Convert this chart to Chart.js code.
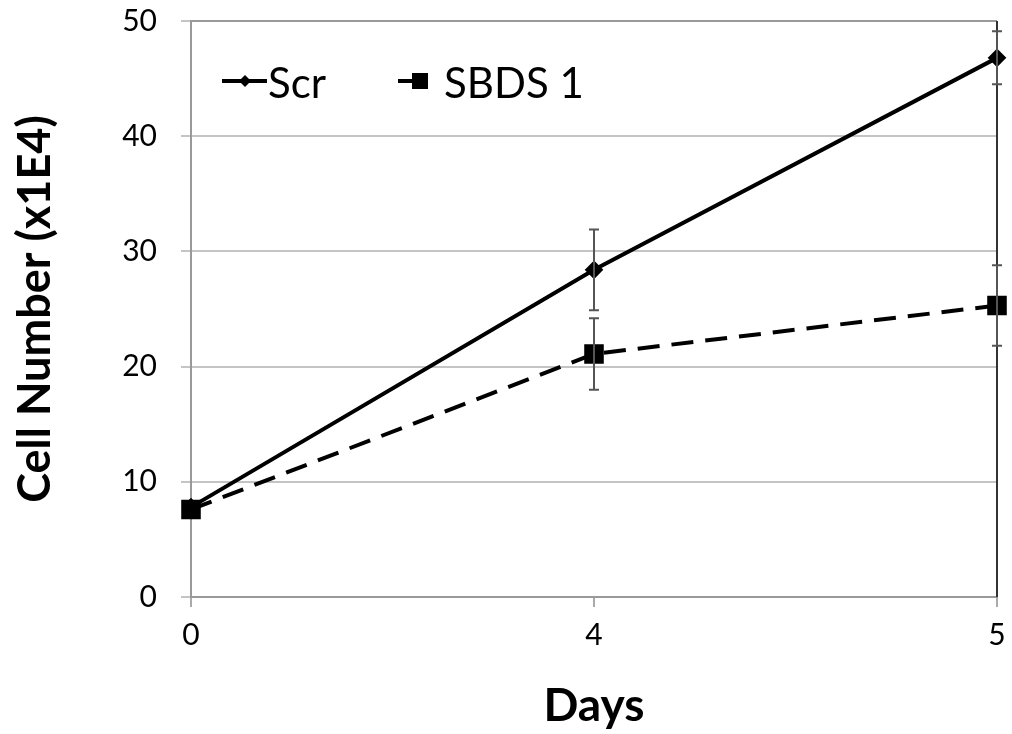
<!DOCTYPE html>
<html>
<head>
<meta charset="utf-8">
<script src="https://cdn.jsdelivr.net/npm/chart.js@4"></script>
<style>
  html, body { margin: 0; padding: 0; background: #fff; }
  #wrap { width: 1012px; height: 734px; position: relative; }
</style>
</head>
<body>
<div id="wrap"><canvas id="growthChart"></canvas></div>
<script>
// values
const days = ['0', '4', '5'];
const seriesNames = ['Scr', 'SBDS 1'];
const scrMean = [7.8, 28.4, 46.8];
const scrErr = [0, 3.5, 2.3];
const sbdsMean = [7.6, 21.1, 25.3];
const sbdsErr = [0, 3.1, 3.5];
const yTicks = [0, 10, 20, 30, 40, 50];

const FONT = 'Lato, "Open Sans", sans-serif';

// error bars drawn from the scale, after the lines
const errorBars = {
  id: 'errorBars',
  afterDatasetsDraw(chart) {
    const ctx = chart.ctx;
    const y = chart.scales.y;
    const errs = [scrErr, sbdsErr];
    ctx.save();
    ctx.strokeStyle = '#555';
    ctx.lineWidth = 2;
    chart.data.datasets.forEach((ds, i) => {
      const meta = chart.getDatasetMeta(i);
      meta.data.forEach((pt, j) => {
        const e = errs[i][j];
        if (!e) return;
        const top = y.getPixelForValue(ds.data[j] + e);
        const bot = y.getPixelForValue(ds.data[j] - e);
        ctx.beginPath();
        ctx.moveTo(pt.x, top); ctx.lineTo(pt.x, bot);
        ctx.moveTo(pt.x - 5, top); ctx.lineTo(pt.x + 5, top);
        ctx.moveTo(pt.x - 5, bot); ctx.lineTo(pt.x + 5, bot);
        ctx.stroke();
      });
    });
    ctx.restore();
  },
};

// plot frame: gray top, dark right edge
const frame = {
  id: 'frame',
  beforeDatasetsDraw(chart) {
    const a = chart.chartArea, ctx = chart.ctx;
    ctx.save();
    ctx.lineWidth = 2;
    ctx.strokeStyle = '#999';
    ctx.beginPath(); ctx.moveTo(a.left, a.top); ctx.lineTo(a.right, a.top); ctx.stroke();
    ctx.strokeStyle = '#333';
    ctx.beginPath(); ctx.moveTo(a.right, a.top); ctx.lineTo(a.right, a.bottom); ctx.stroke();
    ctx.restore();
  },
};

// legend inside the plot, top left
const innerLegend = {
  id: 'innerLegend',
  afterDraw(chart) {
    const ctx = chart.ctx;
    const area = chart.chartArea;
    const cy = area.top + 60;
    ctx.save();
    ctx.font = '42px ' + FONT;
    ctx.fillStyle = '#000';
    ctx.textBaseline = 'middle';
    ctx.strokeStyle = '#000';
    ctx.lineWidth = 4;
    // Scr
    let x0 = area.left + 31;
    ctx.beginPath(); ctx.moveTo(x0, cy); ctx.lineTo(x0 + 45, cy); ctx.stroke();
    ctx.beginPath();
    ctx.moveTo(x0 + 23, cy - 6); ctx.lineTo(x0 + 29, cy); ctx.lineTo(x0 + 23, cy + 6); ctx.lineTo(x0 + 17, cy);
    ctx.closePath(); ctx.fill();
    ctx.fillText(seriesNames[0], x0 + 46, cy + 3);
    // SBDS 1
    x0 = area.left + 207;
    ctx.beginPath(); ctx.moveTo(x0, cy); ctx.lineTo(x0 + 16, cy); ctx.stroke();
    ctx.fillRect(x0 + 14, cy - 8, 16, 16);
    ctx.fillText(seriesNames[1], x0 + 46, cy + 3);
    ctx.restore();
  },
};

new Chart(document.getElementById('growthChart'), {
  type: 'line',
  data: {
    labels: days,
    datasets: [
      {
        label: seriesNames[0], data: scrMean, borderColor: '#000', backgroundColor: '#000',
        borderWidth: 4, pointStyle: 'rectRot', pointRadius: 6.5, tension: 0,
      },
      {
        label: seriesNames[1], data: sbdsMean, borderColor: '#000', backgroundColor: '#000',
        borderWidth: 4, borderDash: [22, 12], pointStyle: 'rect', pointRadius: 11, tension: 0,
      },
    ],
  },
  options: {
    responsive: true,
    maintainAspectRatio: false,
    animation: false,
    layout: { padding: { top: 21, right: 14, left: 0, bottom: 0 } },
    plugins: { legend: { display: false }, tooltip: { enabled: false } },
    scales: {
      x: {
        offset: false,
        grid: { color: '#aaa', lineWidth: 2, tickLength: 10, offset: false, drawOnChartArea: false },
        border: { color: '#999', width: 2 },
        ticks: { color: '#000', font: { family: FONT, size: 30 }, padding: 10 },
        title: { display: true, text: 'Days', color: '#000', font: { family: FONT, size: 46, weight: 'bold' }, padding: { top: 0, bottom: 0 } },
        afterFit: (s) => { s.height = 137; s.paddingLeft = 0; s.paddingRight = 0; },
      },
      y: {
        min: 0, max: 50,
        afterBuildTicks: (s) => { s.ticks = yTicks.map((v) => ({ value: v })); },
        grid: { color: '#c4c4c4', lineWidth: 2, tickLength: 10 },
        border: { color: '#999', width: 2 },
        ticks: { color: '#000', font: { family: FONT, size: 30 }, padding: 24 },
        title: { display: true, text: 'Cell Number (x1E4)', color: '#000', font: { family: FONT, size: 45, weight: 'bold' }, padding: { top: 8, bottom: 0 } },
        afterFit: (s) => { s.width = 191; s.paddingTop = 0; s.paddingBottom = 0; },
      },
    },
  },
  plugins: [frame, errorBars, innerLegend],
});
</script>
</body>
</html>
